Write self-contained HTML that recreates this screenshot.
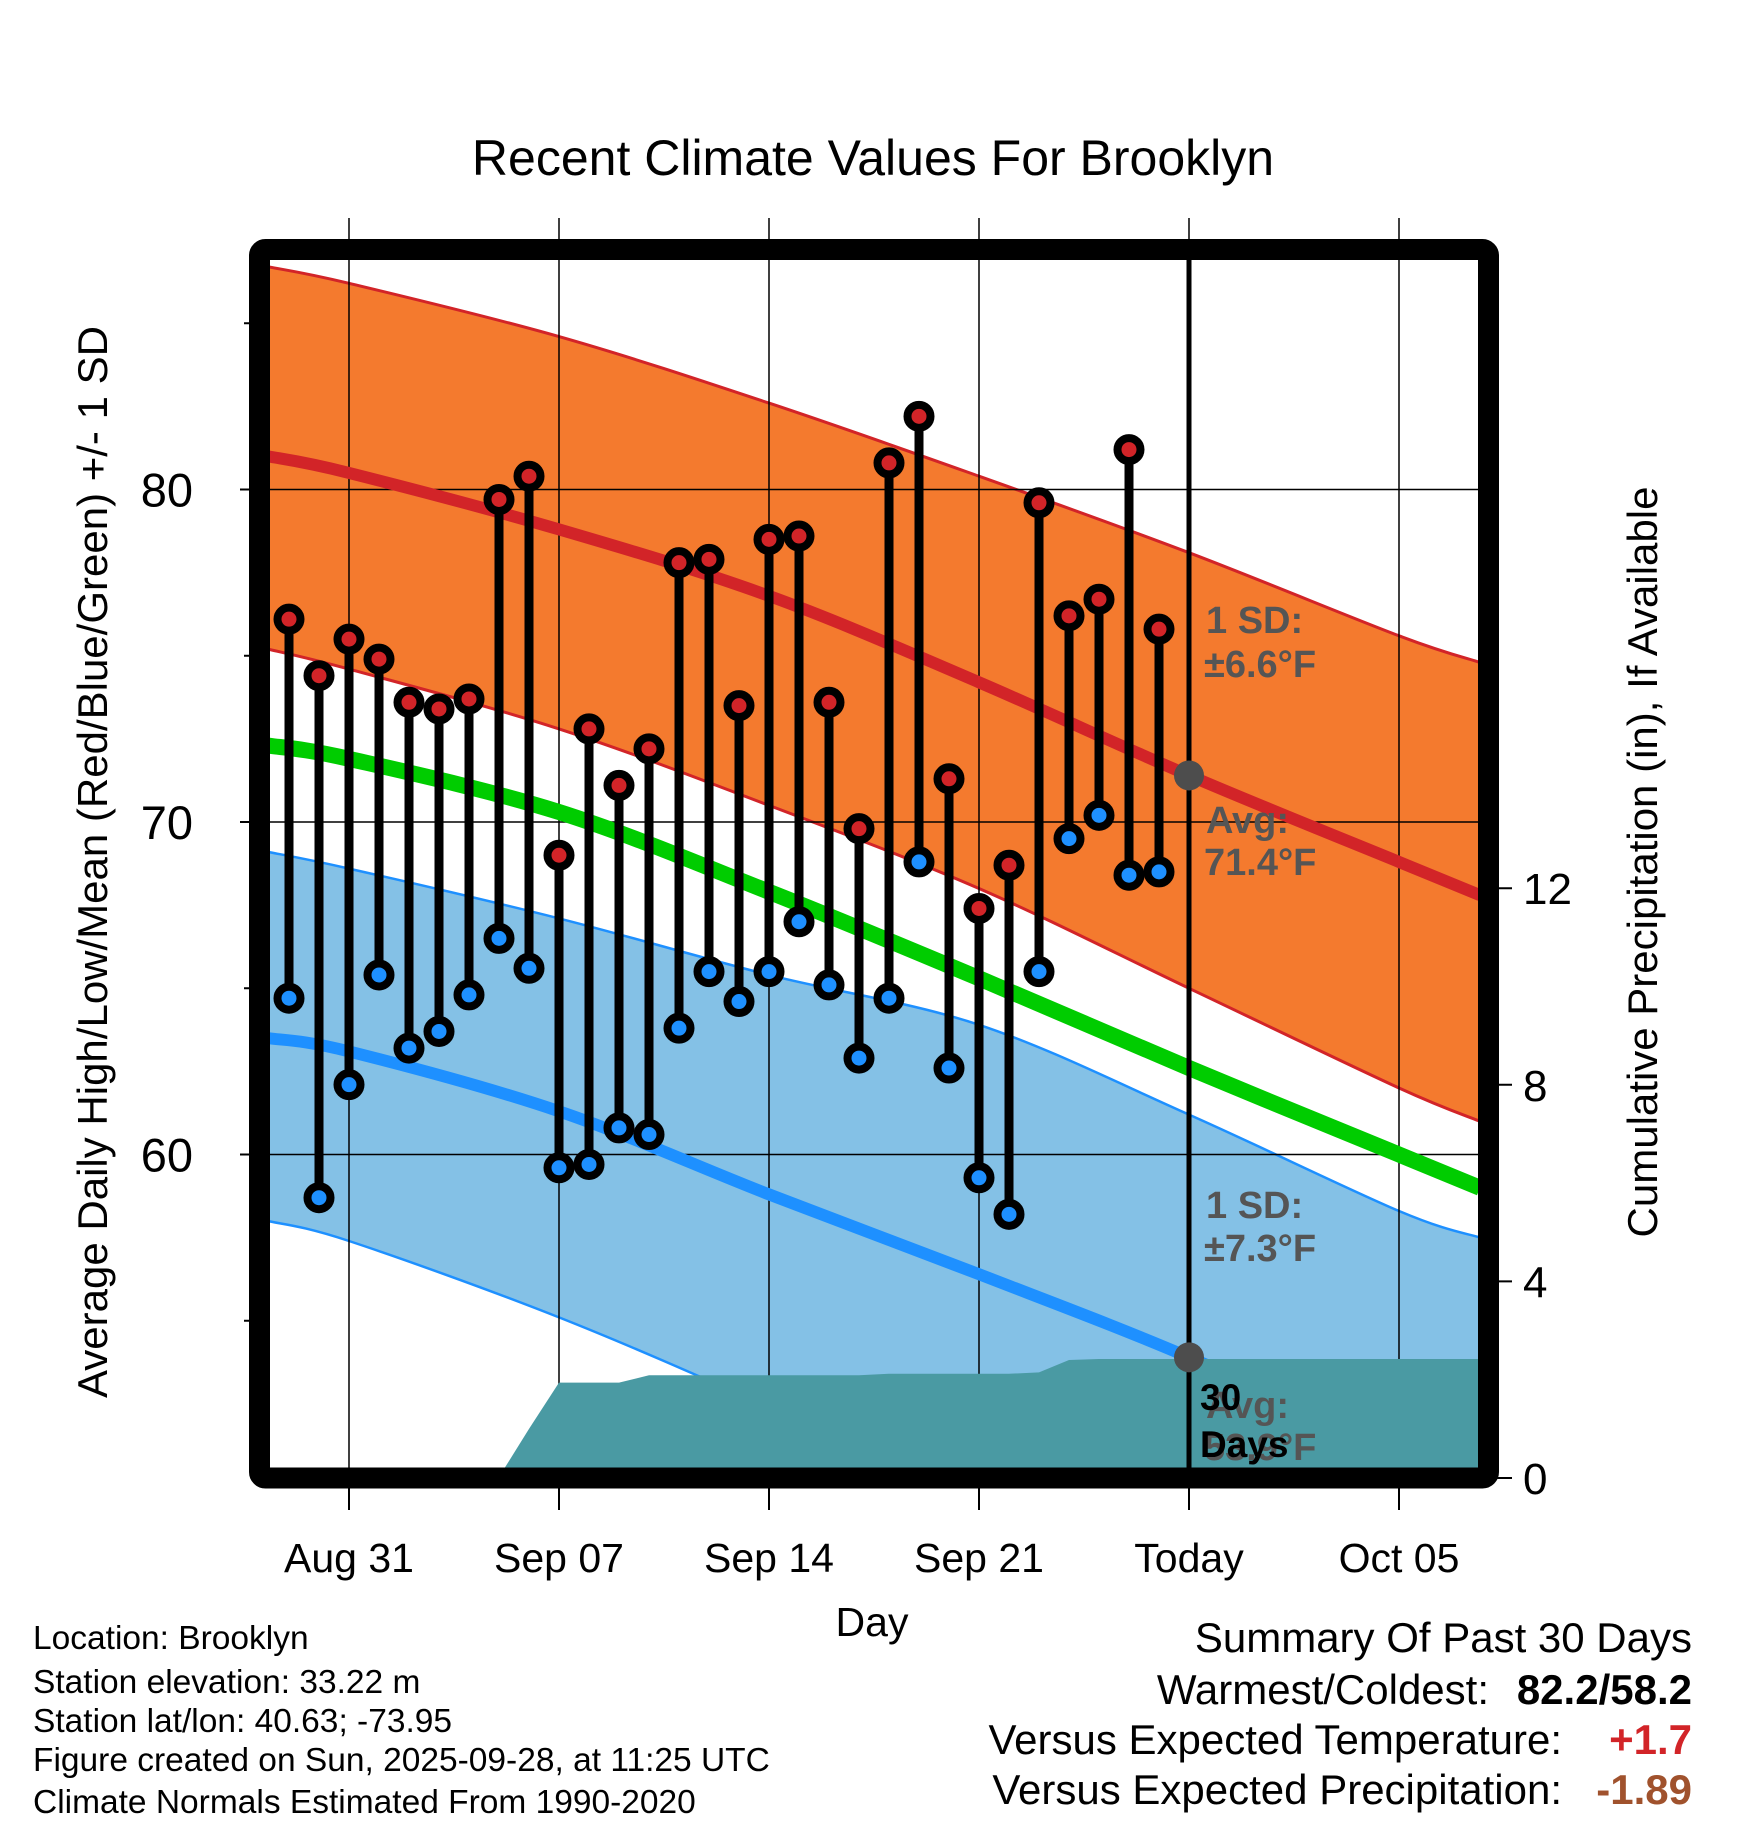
<!DOCTYPE html>
<html><head><meta charset="utf-8">
<style>
html,body{margin:0;padding:0;background:#fff;}
svg{display:block;font-family:"Liberation Sans",Arial,sans-serif;}
</style></head>
<body>
<svg id="chart" width="1748" height="1828" viewBox="0 0 1748 1828" xmlns="http://www.w3.org/2000/svg">
<defs><clipPath id="plotclip"><rect x="270" y="260" width="1208" height="1208"/></clipPath></defs>
<text x="873" y="175" font-size="50" text-anchor="middle">Recent Climate Values For Brooklyn</text>
<g id="plot" clip-path="url(#plotclip)"></g>
<g id="over"></g>
</svg>
<script>
// ---- data ----
const dayLabels = ["Aug 29","Aug 30","Aug 31","Sep 01","Sep 02","Sep 03","Sep 04","Sep 05","Sep 06","Sep 07","Sep 08","Sep 09","Sep 10","Sep 11","Sep 12","Sep 13","Sep 14","Sep 15","Sep 16","Sep 17","Sep 18","Sep 19","Sep 20","Sep 21","Sep 22","Sep 23","Sep 24","Sep 25","Sep 26","Sep 27"];
const dayOffsets = [-30,-29,-28,-27,-26,-25,-24,-23,-22,-21,-20,-19,-18,-17,-16,-15,-14,-13,-12,-11,-10,-9,-8,-7,-6,-5,-4,-3,-2,-1];
const highs = [76.1,74.4,75.5,74.9,73.6,73.4,73.7,79.7,80.4,69.0,72.8,71.1,72.2,77.8,77.9,73.5,78.5,78.6,73.6,69.8,80.8,82.2,71.3,67.4,68.7,79.6,76.2,76.7,81.2,75.8];
const lows = [64.7,58.7,62.1,65.4,63.2,63.7,64.8,66.5,65.6,59.6,59.7,60.8,60.6,63.8,65.5,64.6,65.5,67.0,65.1,62.9,64.7,68.8,62.6,59.3,58.2,65.5,69.5,70.2,68.4,68.5];
const precipCum = [0,0,0,0,0,0,0,0.02,1.0,1.94,1.94,1.94,2.09,2.09,2.09,2.09,2.09,2.09,2.09,2.09,2.12,2.12,2.12,2.12,2.12,2.15,2.40,2.42,2.42,2.42];
const normalDays = [-30.7,-28,-21,-14,-7,0,7,9.7];
const normHigh = [81.0,80.5,78.8,76.8,74.2,71.4,68.8,67.8];
const normHighUp = [86.7,86.2,84.6,82.6,80.4,78.1,75.6,74.8];
const normHighLo = [75.2,74.6,72.8,70.5,68.0,65.0,62.0,61.0];
const normMean = [72.3,71.9,70.3,67.9,65.3,62.6,60.0,59.0];
const normLow = [63.5,63.1,61.3,58.8,56.4,53.9,51.0,49.8];
const normLowUp = [69.1,68.6,67.1,65.4,63.9,61.2,58.3,57.5];
const normLowLo = [58.0,57.4,55.1,52.4,49.5,46.6,43.9,42.7];
const xTickDays = [-28,-21,-14,-7,0,7];
const xTickLabels = ["Aug 31","Sep 07","Sep 14","Sep 21","Today","Oct 05"];
const yTicks = [60,70,80];
const yMinor = [55,65,75,85];
const pTicks = [0,4,8,12];

// ---- axes ----
const X = d => 1189 + d*30.0;
const Y = t => 489.5 - (t-80)*33.25;
const P = p => 1478 - p*49.15;
const NS = "http://www.w3.org/2000/svg";
const plot = document.getElementById('plot');
const over = document.getElementById('over');
function mk(tag, attrs, parent){ const e=document.createElementNS(NS,tag); for(const k in attrs) e.setAttribute(k,attrs[k]); parent.appendChild(e); return e; }
function xy(days, vals){ return days.map((d,i)=>[X(d),Y(vals[i])]); }
function smooth(p, move){
  let s = (move?'M':'L')+p[0][0].toFixed(1)+','+p[0][1].toFixed(1);
  for(let i=0;i<p.length-1;i++){
    const p0=p[Math.max(0,i-1)], p1=p[i], p2=p[i+1], p3=p[Math.min(p.length-1,i+2)];
    const c1=[p1[0]+(p2[0]-p0[0])/6, p1[1]+(p2[1]-p0[1])/6];
    const c2=[p2[0]-(p3[0]-p1[0])/6, p2[1]-(p3[1]-p1[1])/6];
    s+=' C'+c1.map(v=>v.toFixed(1)).join(',')+' '+c2.map(v=>v.toFixed(1)).join(',')+' '+p2.map(v=>v.toFixed(1)).join(',');
  }
  return s;
}
function band(up, lo){ return smooth(xy(normalDays,up),true)+' '+smooth(xy(normalDays,lo).reverse(),false)+' Z'; }

let e;
e = mk('path',{d: band(normHighUp,normHighLo), fill:'#f47a2e'}, plot);
 
e = mk('path',{d: band(normLowUp,normLowLo), fill:'#84c1e6'}, plot);
 
[[normHighUp,'#d22428',3,'high-upper-edge'],[normHighLo,'#d22428',3,'high-lower-edge'],[normLowUp,'#1e90ff',2.5,'low-upper-edge'],[normLowLo,'#1e90ff',2.5,'low-lower-edge']].forEach(a=>{
  const l = mk('path',{d:smooth(xy(normalDays,a[0]),true),fill:'none',stroke:a[1],'stroke-width':a[2]},plot);
   
});
xTickDays.forEach(d=>{ const g=mk('line',{x1:X(d),x2:X(d),y1:260,y2:1468,stroke:'#000','stroke-width':1.5},plot);   });
yTicks.forEach(t=>{ const g=mk('line',{x1:270,x2:1478,y1:Y(t),y2:Y(t),stroke:'#000','stroke-width':1.5},plot);   });
[[normMean,'#00cc00',16,'normal-mean-line'],[normHigh,'#d22428',12,'normal-high-line'],[normLow,'#1e90ff',12,'normal-low-line']].forEach(a=>{
  const l = mk('path',{d:smooth(xy(normalDays,a[0]),true),fill:'none',stroke:a[1],'stroke-width':a[2]},plot);
   
});
const pp = [X(-30.7)+','+P(0)];
dayOffsets.forEach((d,i)=>pp.push(X(d)+','+P(precipCum[i])));
pp.push(X(0)+','+P(precipCum[precipCum.length-1]));
pp.push(X(9.7)+','+P(precipCum[precipCum.length-1]));
pp.push(X(9.7)+','+P(0));
e = mk('polygon',{points:pp.join(' '),fill:'#4a9aa3'},plot);
 
e = mk('line',{x1:1189,x2:1189,y1:260,y2:1468,stroke:'#000','stroke-width':5},plot);
 
dayOffsets.forEach((d,i)=>{
  const s = mk('line',{x1:X(d),x2:X(d),y1:Y(highs[i]),y2:Y(lows[i]),stroke:'#000','stroke-width':9},plot);
   
});
dayOffsets.forEach((d,i)=>{
  const h = mk('circle',{cx:X(d),cy:Y(highs[i]),r:11.5,fill:'#d22428',stroke:'#000','stroke-width':8},plot);
   
  const l = mk('circle',{cx:X(d),cy:Y(lows[i]),r:11.5,fill:'#1e90ff',stroke:'#000','stroke-width':8},plot);
   
});
e = mk('circle',{cx:1189,cy:Y(normHigh[5]),r:15,fill:'#4d4d4d'},plot);
 
e = mk('circle',{cx:1189,cy:Y(normLow[5]),r:15,fill:'#4d4d4d'},plot);
 
function txt(x,y,s,attrs,name,parent){ const t=mk('text',Object.assign({x:x,y:y},attrs),parent||over); t.textContent=s;   return t; }
const ann = {'font-size':38,'font-weight':'bold',fill:'#555'};
txt(1206,633,'1 SD:',ann,'high-sd-label');
txt(1204,677,'±6.6°F',ann,'high-sd-value');
txt(1206,833,'Avg:',ann,'high-avg-label');
txt(1204,875,'71.4°F',ann,'high-avg-value');
txt(1206,1218,'1 SD:',ann,'low-sd-label');
txt(1204,1261,'±7.3°F',ann,'low-sd-value');
txt(1206,1418,'Avg:',ann,'low-avg-label');
txt(1204,1460,'53.9°F',ann,'low-avg-value');
const ann2 = {'font-size':37,'font-weight':'bold',fill:'#000'};
txt(1200,1410,'30',ann2,'thirty-days-label');
txt(1200,1457,'Days',ann2,'thirty-days-label-2');
e = mk('rect',{x:259.5,y:249.5,width:1229,height:1228.5,fill:'none',stroke:'#000','stroke-width':21,rx:6},over);
 
xTickDays.forEach((d,i)=>{
  const a=mk('line',{x1:X(d),x2:X(d),y1:218,y2:250,stroke:'#000','stroke-width':1.5},over);  
  const b=mk('line',{x1:X(d),x2:X(d),y1:1488,y2:1510,stroke:'#000','stroke-width':2},over);  
  txt(X(d),1572,xTickLabels[i],{'font-size':41,'text-anchor':'middle'},'x-tick-label');
});
yTicks.forEach(t=>{
  const a=mk('line',{x1:240,x2:250,y1:Y(t),y2:Y(t),stroke:'#000','stroke-width':2},over);  
  txt(193,Y(t)+17,String(t),{'font-size':47,'text-anchor':'end'},'y-tick-label');
});
yMinor.forEach(t=>{
  const a=mk('line',{x1:244,x2:250,y1:Y(t),y2:Y(t),stroke:'#000','stroke-width':2},over);  
});
pTicks.forEach(p=>{
  const a=mk('line',{x1:1488,x2:1512,y1:P(p),y2:P(p),stroke:'#000','stroke-width':2},over);  
  txt(1523,P(p)+16,String(p),{'font-size':44},'precip-tick-label');
});
</script>
<script>
const svg=document.getElementById('chart');
function T(x,y,s,attrs,name){ const t=document.createElementNS("http://www.w3.org/2000/svg",'text'); t.setAttribute('x',x); t.setAttribute('y',y); for(const k in attrs) t.setAttribute(k,attrs[k]); t.textContent=s;


svg.appendChild(t); return t; }
T(872,1636,'Day',{'font-size':41,'text-anchor':'middle'},'x-axis-title');
T(0,0,'Average Daily High/Low/Mean (Red/Blue/Green) +/- 1 SD',{'font-size':42,'text-anchor':'middle',transform:'translate(107,862) rotate(-90)'},'y-axis-title');
T(0,0,'Cumulative Precipitation (in), If Available',{'font-size':42,'text-anchor':'middle',transform:'translate(1657,862) rotate(-90)'},'precip-axis-title');
const info=['Location: Brooklyn','Station elevation: 33.22 m','Station lat/lon: 40.63; -73.95','Figure created on Sun, 2025-09-28, at 11:25 UTC','Climate Normals Estimated From 1990-2020'];
const infoY=[1649,1693,1732,1771,1813];
info.forEach((s,i)=>T(33,infoY[i],s,{'font-size':33.5},'station-info-line'));
T(1692,1652,'Summary Of Past 30 Days',{'font-size':42,'text-anchor':'end'},'summary-title');
T(1489,1704,'Warmest/Coldest:',{'font-size':42,'text-anchor':'end'},'warmest-coldest-label');
T(1692,1704,'82.2/58.2',{'font-size':42,'text-anchor':'end','font-weight':'bold'},'warmest-coldest-value');
T(1562,1754,'Versus Expected Temperature:',{'font-size':42,'text-anchor':'end'},'temp-anomaly-label');
T(1692,1754,'+1.7',{'font-size':42,'text-anchor':'end','font-weight':'bold',fill:'#d22428'},'temp-anomaly-value');
T(1562,1804,'Versus Expected Precipitation:',{'font-size':42,'text-anchor':'end'},'precip-anomaly-label');
T(1692,1804,'-1.89',{'font-size':42,'text-anchor':'end','font-weight':'bold',fill:'#a0522d'},'precip-anomaly-value');
</script>
</body></html>
